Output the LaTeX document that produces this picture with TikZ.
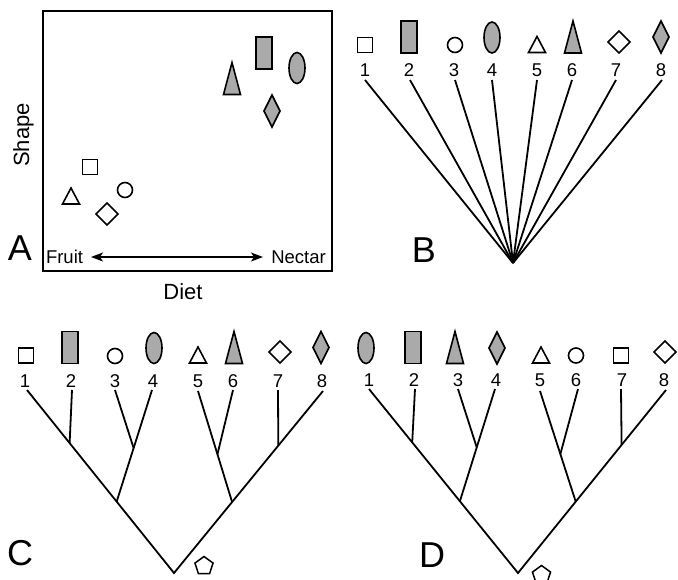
\documentclass[tikz,border=0pt]{standalone}
\usepackage{fontspec}
\setmainfont{Liberation Sans}
\usetikzlibrary{arrows.meta,shapes.geometric,calc}
\definecolor{shapegray}{RGB}{170,170,170}
\tikzset{
  outline/.style={draw=black,line width=1.6pt,line join=miter},
  filled/.style={outline,fill=shapegray},
  open/.style={outline,fill=white},
  % specimen glyphs, all centred on the pic origin (y grows downwards)
  sq/.pic={\path[open] (-7.5,-7.5) rectangle (7.5,7.5);},
  grect/.pic={\path[filled] (-8,-16) rectangle (8,16);},
  circ/.pic={\path[open] (0,0) circle [radius=7.5];},
  gell/.pic={\path[filled] (0,0) ellipse [x radius=8, y radius=15.5];},
  tri/.pic={\path[open] (-8.5,8)--(8.5,8)--(0,-8)--cycle;},
  gtri/.pic={\path[filled] (-8.5,16)--(8.5,16)--(0,-16)--cycle;},
  dia/.pic={\path[open] (-11,0)--(0,-11)--(11,0)--(0,11)--cycle;},
  gdia/.pic={\path[filled] (-8,0)--(0,-16)--(8,0)--(0,16)--cycle;},
  pent/.style={regular polygon,regular polygon sides=5,draw,line width=1.5pt,
    minimum size=19pt,inner sep=0pt},
  num/.style={anchor=base,inner sep=0pt,font=\fontsize{18.5}{20}\selectfont},
  axislabel/.style={anchor=base,inner sep=0pt,font=\fontsize{18.5}{20}\selectfont},
  bigaxis/.style={anchor=base,inner sep=0pt,font=\fontsize{22}{24}\selectfont},
  panel/.style={anchor=base,inner sep=0pt,font=\fontsize{36}{40}\selectfont},
  branch/.style={line width=1.8pt,line join=miter},
}
\begin{document}
\begin{tikzpicture}[x=1pt,y=-1pt]
\clip (0,0) rectangle (678,579);

%% ---------------- Panel A: morphospace ----------------
\draw[line width=2pt] (42.5,11) rectangle (332,271);
\node[bigaxis,rotate=90] (shapelab) at (29,135) {Shape};
\node[bigaxis] (dietlab) at (183,299) {Diet};
\node[panel] (labA) at (20,260) {A};
\node[axislabel] (fruit) at (64.5,263) {Fruit};
\node[axislabel] (nectar) at (298.5,263) {Nectar};
\coordinate (arrL) at (91,257);
\coordinate (arrR) at (263,257);
\draw[line width=1.5pt,{Stealth[length=12pt,width=9pt,inset=3pt]}-{Stealth[length=12pt,width=9pt,inset=3pt]}] (arrL) -- (arrR);
\pic (a2) at (264,53) {grect};
\pic (a4) at (297,68) {gell};
\pic (a6) at (232,78.5) {gtri};
\pic (a8) at (272,111) {gdia};
\pic (a1) at (90,167) {sq};
\pic (a3) at (125,190) {circ};
\pic (a5) at (71,196) {tri};
\pic (a7) at (107,214) {dia};

%% ---------------- Panel B: star phylogeny ----------------
\pic (b1s) at (365,45) {sq};
\pic (b2s) at (409,37) {grect};
\pic (b3s) at (455,45) {circ};
\pic (b4s) at (492,37.5) {gell};
\pic (b5s) at (537,44.5) {tri};
\pic (b6s) at (573,37) {gtri};
\pic (b7s) at (619,42) {dia};
\pic (b8s) at (661,37) {gdia};
\foreach \i/\x in {1/365,2/409,3/454,4/492,5/537,6/572,7/616,8/661}
  \node[num] (b\i) at (\x,76) {\i};
\foreach \i/\x in {1/365,2/410,3/455,4/492,5/537,6/572,7/616,8/662}
  \coordinate (b\i t) at (\x,80);
\coordinate (broot) at (513,263);
\foreach \i in {1,...,8}
  \draw[branch] (b\i t) -- (broot);
\node[panel] (labB) at (424,262) {B};

%% ---------------- Panel C: tree grouped by diet ----------------
\pic (c1s) at (26,355.5) {sq};
\pic (c2s) at (70,347.5) {grect};
\pic (c3s) at (115,356) {circ};
\pic (c4s) at (154,348) {gell};
\pic (c5s) at (198,355) {tri};
\pic (c6s) at (234,347.5) {gtri};
\pic (c7s) at (280,352) {dia};
\pic (c8s) at (321,347.5) {gdia};
\foreach \i/\x in {1/25,2/71,3/115,4/153,5/198,6/233,7/278,8/322}
  \node[num] (c\i) at (\x,387) {\i};
\foreach \i/\x/\y in {1/27/390,2/72/390,3/115/390,4/152/390,5/198/391,6/233/390,7/278/390,8/323/391}
  \coordinate (c\i t) at (\x,\y);
\coordinate (croot) at (174,573);
\coordinate (c12) at ($(c1t)!0.29!(croot)$);
\coordinate (c1234) at ($(c1t)!0.61!(croot)$);
\coordinate (c78) at ($(c8t)!0.30!(croot)$);
\coordinate (c5678) at ($(c8t)!0.61!(croot)$);
\coordinate (c34) at ($(c4t)!0.52!(c1234)$);
\coordinate (c56) at ($(c5t)!0.57!(c5678)$);
\draw[branch] (c1t) -- (croot) -- (c8t);
\draw[branch] (c4t) -- (c1234);
\draw[branch] (c5t) -- (c5678);
\draw[branch] (c2t) -- (c12);
\draw[branch] (c3t) -- (c34);
\draw[branch] (c6t) -- (c56);
\draw[branch] (c7t) -- (c78);
\node[pent] (cout) at (204,566) {};
\node[panel] (labC) at (20,565) {C};

%% ---------------- Panel D: tree grouped by shape ----------------
\pic (d1s) at (366,348) {gell};
\pic (d2s) at (413,347.5) {grect};
\pic (d3s) at (455,347.5) {gtri};
\pic (d4s) at (497,348) {gdia};
\pic (d5s) at (541,355) {tri};
\pic (d6s) at (576,355.5) {circ};
\pic (d7s) at (621,355.5) {sq};
\pic (d8s) at (665,352) {dia};
\foreach \i/\x in {1/369,2/414,3/458,4/496,5/540,6/576,7/622,8/664}
  \node[num] (d\i) at (\x,386) {\i};
\foreach \i/\x/\y in {1/369/389,2/415/389,3/458/389,4/495/389,5/540/391,6/578/389,7/621/389,8/666/390}
  \coordinate (d\i t) at (\x,\y);
\coordinate (droot) at (518,573);
\coordinate (d12) at ($(d1t)!0.29!(droot)$);
\coordinate (d1234) at ($(d1t)!0.61!(droot)$);
\coordinate (d78) at ($(d8t)!0.30!(droot)$);
\coordinate (d5678) at ($(d8t)!0.61!(droot)$);
\coordinate (d34) at ($(d4t)!0.52!(d1234)$);
\coordinate (d56) at ($(d5t)!0.57!(d5678)$);
\draw[branch] (d1t) -- (droot) -- (d8t);
\draw[branch] (d4t) -- (d1234);
\draw[branch] (d5t) -- (d5678);
\draw[branch] (d2t) -- (d12);
\draw[branch] (d3t) -- (d34);
\draw[branch] (d6t) -- (d56);
\draw[branch] (d7t) -- (d78);
\node[pent] (dout) at (541.5,575) {};
\node[panel] (labD) at (432,567) {D};
\end{tikzpicture}
\end{document}
